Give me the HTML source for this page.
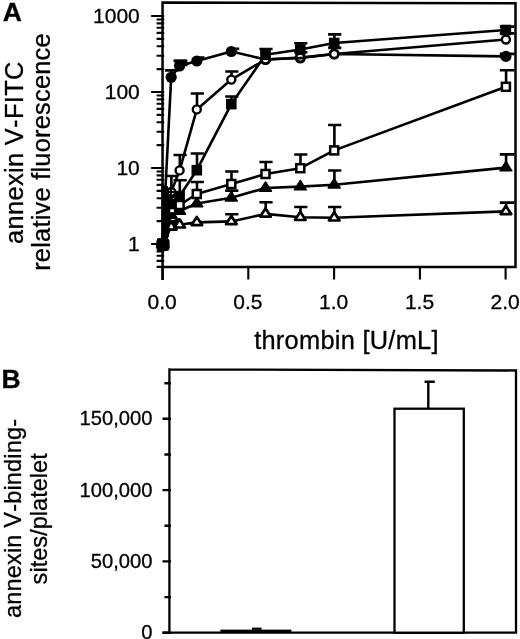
<!DOCTYPE html>
<html><head><meta charset="utf-8"><title>Figure</title>
<style>
html,body{margin:0;padding:0;background:#fff;}
svg{display:block;will-change:transform;}
text{font-family:"Liberation Sans",sans-serif;fill:#000;font-kerning:none;stroke:#000;stroke-width:0.3px;}
.t20{font-size:20.2px;}
.t21{font-size:21px;}
</style></head>
<body>
<svg width="520" height="639" viewBox="0 0 520 639">
<rect x="0" y="0" width="520" height="639" fill="#fff"/>
<g id="panelA">
<path d="M162.55,279.9 V2.5 L515.5,3.2 V266.9 H161.55" fill="none" stroke="#000" stroke-width="2.5" stroke-linejoin="miter"/>
<path d="M156.6,266.9 H164.2 M156.6,260.9 H164.2 M156.6,255.8 H164.2 M156.6,251.4 H164.2 M156.6,247.5 H164.2 M151.1,244.0 H164.2 M156.6,221.1 H164.2 M156.6,207.7 H164.2 M156.6,198.2 H164.2 M156.6,190.9 H164.2 M156.6,184.9 H164.2 M156.6,179.8 H164.2 M156.6,175.4 H164.2 M156.6,171.5 H164.2 M151.1,168.0 H164.2 M156.6,145.1 H164.2 M156.6,131.7 H164.2 M156.6,122.2 H164.2 M156.6,114.9 H164.2 M156.6,108.9 H164.2 M156.6,103.8 H164.2 M156.6,99.4 H164.2 M156.6,95.5 H164.2 M151.1,92.0 H164.2 M156.6,69.1 H164.2 M156.6,55.7 H164.2 M156.6,46.2 H164.2 M156.6,38.9 H164.2 M156.6,32.9 H164.2 M156.6,27.8 H164.2 M156.6,23.4 H164.2 M156.6,19.5 H164.2 M151.1,16.0 H164.2" fill="none" stroke="#000" stroke-width="2.1"/>
<path d="M162.6,266.9 V279.4 M248.3,266.9 V279.4 M334.1,266.9 V279.4 M419.9,266.9 V279.4 M505.6,266.9 V279.4" fill="none" stroke="#000" stroke-width="2.1"/>
<text x="162.2" y="309.2" text-anchor="middle" class="t21">0.0</text>
<text x="247.9" y="309.2" text-anchor="middle" class="t21">0.5</text>
<text x="333.7" y="309.2" text-anchor="middle" class="t21">1.0</text>
<text x="419.5" y="309.2" text-anchor="middle" class="t21">1.5</text>
<text x="505.2" y="309.2" text-anchor="middle" class="t21">2.0</text>
<text x="139.8" y="23.2" text-anchor="end" class="t21">1000</text>
<text x="139.8" y="99.2" text-anchor="end" class="t21">100</text>
<text x="139.8" y="175.2" text-anchor="end" class="t21">10</text>
<text x="139.8" y="251.2" text-anchor="end" class="t21">1</text>
<text x="346.5" y="349.3" text-anchor="middle" style="font-size:25.4px;letter-spacing:0.27px">thrombin [U/mL]</text>
<text transform="translate(23.4,152.6) rotate(-90)" text-anchor="middle" style="font-size:25.4px;letter-spacing:0.34px">annexin V-FITC</text>
<text transform="translate(50.3,152.0) rotate(-90)" text-anchor="middle" style="font-size:25.4px;letter-spacing:0.23px">relative fluorescence</text>
<text x="2.8" y="21" style="font-size:26.5px;font-weight:bold">A</text>
<path d="M162.6,244.0 L171.2,227.0 L179.6,224.8 L196.8,222.4 L231.3,221.4 L265.5,213.9 L300.3,217.3 L334.2,217.8 L505.9,211.4" fill="none" stroke="#000" stroke-width="2.6" stroke-linejoin="round"/>
<path d="M162.6,244.0 L171.2,215.0 L179.6,211.0 L196.8,203.5 L231.3,197.8 L265.5,188.0 L300.3,186.6 L334.2,184.8 L505.9,167.6" fill="none" stroke="#000" stroke-width="2.6" stroke-linejoin="round"/>
<path d="M162.6,244.0 L171.2,209.4 L179.6,205.0 L196.8,194.0 L231.3,184.0 L265.5,174.0 L300.3,168.2 L334.2,150.4 L505.9,86.8" fill="none" stroke="#000" stroke-width="2.6" stroke-linejoin="round"/>
<path d="M162.6,244.0 L171.2,77.3 L179.6,66.0 L196.8,61.0 L231.3,51.5 L265.5,59.5 L300.3,58.0 L334.2,54.0 L505.9,56.4" fill="none" stroke="#000" stroke-width="2.6" stroke-linejoin="round"/>
<path d="M162.6,244.0 L171.2,192.0 L179.6,170.4 L196.8,109.4 L231.3,79.6 L265.5,59.5 L300.3,57.6 L334.2,54.0 L505.9,39.5" fill="none" stroke="#000" stroke-width="2.6" stroke-linejoin="round"/>
<path d="M162.6,244.0 L171.2,204.0 L179.6,196.0 L196.8,170.2 L231.3,104.1 L265.5,54.8 L300.3,49.5 L334.2,43.0 L505.9,30.0" fill="none" stroke="#000" stroke-width="2.6" stroke-linejoin="round"/>
<path d="M231.5,221.4 V214.2 M225.2,214.2 H238.4" fill="none" stroke="#000" stroke-width="2.6"/>
<path d="M265.7,213.9 V202.3 M259.4,202.3 H272.6" fill="none" stroke="#000" stroke-width="2.6"/>
<path d="M300.5,217.3 V207.0 M294.2,207.0 H307.4" fill="none" stroke="#000" stroke-width="2.6"/>
<path d="M334.4,217.8 V207.0 M328.1,207.0 H341.3" fill="none" stroke="#000" stroke-width="2.6"/>
<path d="M506.1,211.4 V202.6 M499.8,202.6 H514.6" fill="none" stroke="#000" stroke-width="2.6"/>
<path d="M231.5,197.8 V190.6 M225.2,190.6 H238.4" fill="none" stroke="#000" stroke-width="2.6"/>
<path d="M334.4,184.8 V170.5 M328.1,170.5 H341.3" fill="none" stroke="#000" stroke-width="2.6"/>
<path d="M506.1,167.6 V154.4 M499.8,154.4 H514.6" fill="none" stroke="#000" stroke-width="2.6"/>
<path d="M171.4,209.4 V197.0 M165.1,197.0 H178.3" fill="none" stroke="#000" stroke-width="2.6"/>
<path d="M179.8,205.0 V180.2 M173.5,180.2 H186.7" fill="none" stroke="#000" stroke-width="2.6"/>
<path d="M197.0,194.0 V182.0 M190.7,182.0 H203.9" fill="none" stroke="#000" stroke-width="2.6"/>
<path d="M231.5,184.0 V171.5 M225.2,171.5 H238.4" fill="none" stroke="#000" stroke-width="2.6"/>
<path d="M265.7,174.0 V162.0 M259.4,162.0 H272.6" fill="none" stroke="#000" stroke-width="2.6"/>
<path d="M300.5,168.2 V154.5 M294.2,154.5 H307.4" fill="none" stroke="#000" stroke-width="2.6"/>
<path d="M334.4,150.4 V125.0 M328.1,125.0 H341.3" fill="none" stroke="#000" stroke-width="2.6"/>
<path d="M506.1,86.8 V70.3 M499.8,70.3 H514.6" fill="none" stroke="#000" stroke-width="2.6"/>
<path d="M171.4,77.3 V70.4 M165.1,70.4 H178.3" fill="none" stroke="#000" stroke-width="2.6"/>
<path d="M179.8,66.0 V60.8 M173.5,60.8 H186.7" fill="none" stroke="#000" stroke-width="2.6"/>
<path d="M506.1,56.4 V53.9 M499.8,53.9 H514.6" fill="none" stroke="#000" stroke-width="2.6"/>
<path d="M171.4,192.0 V176.0 M165.1,176.0 H178.3" fill="none" stroke="#000" stroke-width="2.6"/>
<path d="M179.8,170.4 V155.0 M173.5,155.0 H186.7" fill="none" stroke="#000" stroke-width="2.6"/>
<path d="M197.0,109.4 V93.5 M190.7,93.5 H203.9" fill="none" stroke="#000" stroke-width="2.6"/>
<path d="M231.5,79.6 V71.5 M225.2,71.5 H238.4" fill="none" stroke="#000" stroke-width="2.6"/>
<path d="M300.5,57.6 V52.3 M294.2,52.3 H307.4" fill="none" stroke="#000" stroke-width="2.6"/>
<path d="M334.4,54.0 V47.9 M328.1,47.9 H341.3" fill="none" stroke="#000" stroke-width="2.6"/>
<path d="M506.1,39.5 V33.4 M499.8,33.4 H514.6" fill="none" stroke="#000" stroke-width="2.6"/>
<path d="M197.0,170.2 V153.5 M190.7,153.5 H203.9" fill="none" stroke="#000" stroke-width="2.6"/>
<path d="M231.5,104.1 V96.5 M225.2,96.5 H238.4" fill="none" stroke="#000" stroke-width="2.6"/>
<path d="M265.7,54.8 V49.0 M259.4,49.0 H272.6" fill="none" stroke="#000" stroke-width="2.6"/>
<path d="M300.5,49.5 V43.2 M294.2,43.2 H307.4" fill="none" stroke="#000" stroke-width="2.6"/>
<path d="M334.4,43.0 V34.4 M328.1,34.4 H341.3" fill="none" stroke="#000" stroke-width="2.6"/>
<path d="M506.1,30.0 V26.6 M499.8,26.6 H514.6" fill="none" stroke="#000" stroke-width="2.6"/>
<path d="M162.6,238.5 L167.9,246.7 L157.3,246.7 Z" fill="#fff" stroke="#000" stroke-width="2.7" stroke-linejoin="round"/>
<path d="M171.2,221.5 L176.5,229.7 L165.9,229.7 Z" fill="#fff" stroke="#000" stroke-width="2.7" stroke-linejoin="round"/>
<path d="M179.6,219.3 L184.9,227.5 L174.3,227.5 Z" fill="#fff" stroke="#000" stroke-width="2.7" stroke-linejoin="round"/>
<path d="M196.8,216.9 L202.1,225.1 L191.5,225.1 Z" fill="#fff" stroke="#000" stroke-width="2.7" stroke-linejoin="round"/>
<path d="M231.3,215.9 L236.6,224.1 L226.0,224.1 Z" fill="#fff" stroke="#000" stroke-width="2.7" stroke-linejoin="round"/>
<path d="M265.5,208.4 L270.8,216.6 L260.2,216.6 Z" fill="#fff" stroke="#000" stroke-width="2.7" stroke-linejoin="round"/>
<path d="M300.3,211.8 L305.6,220.0 L295.0,220.0 Z" fill="#fff" stroke="#000" stroke-width="2.7" stroke-linejoin="round"/>
<path d="M334.2,212.3 L339.5,220.5 L328.9,220.5 Z" fill="#fff" stroke="#000" stroke-width="2.7" stroke-linejoin="round"/>
<path d="M505.9,205.9 L511.2,214.1 L500.6,214.1 Z" fill="#fff" stroke="#000" stroke-width="2.7" stroke-linejoin="round"/>
<path d="M162.6,237.8 L168.6,247.2 L156.6,247.2 Z" fill="#000" stroke="#000" stroke-width="1.4" stroke-linejoin="round"/>
<path d="M171.2,208.8 L177.2,218.2 L165.2,218.2 Z" fill="#000" stroke="#000" stroke-width="1.4" stroke-linejoin="round"/>
<path d="M179.6,204.8 L185.6,214.2 L173.6,214.2 Z" fill="#000" stroke="#000" stroke-width="1.4" stroke-linejoin="round"/>
<path d="M196.8,197.3 L202.8,206.7 L190.8,206.7 Z" fill="#000" stroke="#000" stroke-width="1.4" stroke-linejoin="round"/>
<path d="M231.3,191.6 L237.3,201.0 L225.3,201.0 Z" fill="#000" stroke="#000" stroke-width="1.4" stroke-linejoin="round"/>
<path d="M265.5,181.8 L271.5,191.2 L259.5,191.2 Z" fill="#000" stroke="#000" stroke-width="1.4" stroke-linejoin="round"/>
<path d="M300.3,180.4 L306.3,189.8 L294.3,189.8 Z" fill="#000" stroke="#000" stroke-width="1.4" stroke-linejoin="round"/>
<path d="M334.2,178.6 L340.2,188.0 L328.2,188.0 Z" fill="#000" stroke="#000" stroke-width="1.4" stroke-linejoin="round"/>
<path d="M505.9,161.4 L511.9,170.8 L499.9,170.8 Z" fill="#000" stroke="#000" stroke-width="1.4" stroke-linejoin="round"/>
<rect x="158.6" y="240.0" width="8.0" height="8.0" fill="#fff" stroke="#000" stroke-width="2.5"/>
<rect x="167.2" y="205.4" width="8.0" height="8.0" fill="#fff" stroke="#000" stroke-width="2.5"/>
<rect x="175.6" y="201.0" width="8.0" height="8.0" fill="#fff" stroke="#000" stroke-width="2.5"/>
<rect x="192.8" y="190.0" width="8.0" height="8.0" fill="#fff" stroke="#000" stroke-width="2.5"/>
<rect x="227.3" y="180.0" width="8.0" height="8.0" fill="#fff" stroke="#000" stroke-width="2.5"/>
<rect x="261.5" y="170.0" width="8.0" height="8.0" fill="#fff" stroke="#000" stroke-width="2.5"/>
<rect x="296.3" y="164.2" width="8.0" height="8.0" fill="#fff" stroke="#000" stroke-width="2.5"/>
<rect x="330.2" y="146.4" width="8.0" height="8.0" fill="#fff" stroke="#000" stroke-width="2.5"/>
<rect x="501.9" y="82.8" width="8.0" height="8.0" fill="#fff" stroke="#000" stroke-width="2.5"/>
<circle cx="162.6" cy="244.0" r="5.6" fill="#000"/>
<circle cx="171.2" cy="77.3" r="5.6" fill="#000"/>
<circle cx="179.6" cy="66.0" r="5.6" fill="#000"/>
<circle cx="196.8" cy="61.0" r="5.6" fill="#000"/>
<circle cx="231.3" cy="51.5" r="5.6" fill="#000"/>
<circle cx="265.5" cy="59.5" r="5.6" fill="#000"/>
<circle cx="300.3" cy="58.0" r="5.6" fill="#000"/>
<circle cx="334.2" cy="54.0" r="5.6" fill="#000"/>
<circle cx="505.9" cy="56.4" r="5.6" fill="#000"/>
<circle cx="162.6" cy="244.0" r="4.0" fill="#fff" stroke="#000" stroke-width="2.4"/>
<circle cx="171.2" cy="192.0" r="4.0" fill="#fff" stroke="#000" stroke-width="2.4"/>
<circle cx="179.6" cy="170.4" r="4.0" fill="#fff" stroke="#000" stroke-width="2.4"/>
<circle cx="196.8" cy="109.4" r="4.0" fill="#fff" stroke="#000" stroke-width="2.4"/>
<circle cx="231.3" cy="79.6" r="4.0" fill="#fff" stroke="#000" stroke-width="2.4"/>
<circle cx="265.5" cy="59.5" r="4.0" fill="#fff" stroke="#000" stroke-width="2.4"/>
<circle cx="300.3" cy="57.6" r="4.0" fill="#fff" stroke="#000" stroke-width="2.4"/>
<circle cx="334.2" cy="54.0" r="4.0" fill="#fff" stroke="#000" stroke-width="2.4"/>
<circle cx="505.9" cy="39.5" r="4.0" fill="#fff" stroke="#000" stroke-width="2.4"/>
<rect x="157.3" y="238.7" width="10.6" height="10.6" fill="#000"/>
<rect x="165.9" y="198.7" width="10.6" height="10.6" fill="#000"/>
<rect x="174.3" y="190.7" width="10.6" height="10.6" fill="#000"/>
<rect x="191.5" y="164.9" width="10.6" height="10.6" fill="#000"/>
<rect x="226.0" y="98.8" width="10.6" height="10.6" fill="#000"/>
<rect x="260.2" y="49.5" width="10.6" height="10.6" fill="#000"/>
<rect x="295.0" y="44.2" width="10.6" height="10.6" fill="#000"/>
<rect x="328.9" y="37.7" width="10.6" height="10.6" fill="#000"/>
<rect x="500.6" y="24.7" width="10.6" height="10.6" fill="#000"/>
<path d="M196.8,57.6 H204.4 M231.3,48.9 H239.2" fill="none" stroke="#000" stroke-width="2.6"/>
<rect x="174.6" y="59.6" width="12.8" height="6.6" fill="#000"/>
<path d="M161.4,243 L161.4,186 L167.8,186 L170.0,200 L170.3,214 L169.0,236 L166,243 Z" fill="#000"/>
<path d="M296.3,58.3 L304.3,57.8" fill="none" stroke="#000" stroke-width="2.8"/>
<path d="M171.3,220.6 L179.4,218.0 L177.0,225.5 L173.5,226.5 Z" fill="#000"/>
<circle cx="162.6" cy="244.0" r="5.6" fill="#000"/>
<rect x="157.3" y="238.7" width="10.6" height="10.6" fill="#000"/>
<path d="M162.6,237.8 L168.6,247.2 L156.6,247.2 Z" fill="#000" stroke="#000" stroke-width="1.4" stroke-linejoin="round"/>
<rect x="156.4" y="238.2" width="13.2" height="12.8" rx="3.5" fill="#000"/>
<path d="M170.8,204 V187 M165.7,192 H176.7" fill="none" stroke="#000" stroke-width="2.2"/>
</g>
<g id="panelB">
<path d="M169.4,369.3 L516.0,370.5 L516.0,632.7 L162.5,632.7 M169.4,633.7 L169.4,368.2" fill="none" stroke="#000" stroke-width="2.3" stroke-linejoin="miter"/>
<path d="M162.5,632.7 H171.0 M164.4,597.1 H171.0 M162.5,561.4 H171.0 M164.4,525.8 H171.0 M162.5,490.1 H171.0 M164.4,454.5 H171.0 M162.5,418.8 H171.0 M164.4,383.2 H171.0" fill="none" stroke="#000" stroke-width="2.4"/>
<text x="152.5" y="639.1" text-anchor="end" class="t20">0</text>
<text x="152.5" y="567.8" text-anchor="end" class="t20">50,000</text>
<text x="152.5" y="496.5" text-anchor="end" class="t20">100,000</text>
<text x="152.5" y="425.2" text-anchor="end" class="t20">150,000</text>
<rect x="394.5" y="408.7" width="69.3" height="224.00000000000006" fill="#fff" stroke="#000" stroke-width="2.3"/>
<path d="M428.3,408.5 V381.8 M424.6,381.8 H434.8" fill="none" stroke="#000" stroke-width="2.4"/>
<rect x="220.4" y="629.6" width="71" height="3" fill="#000"/>
<path d="M252,628.7 H261.5" fill="none" stroke="#000" stroke-width="2.2"/>
<text transform="translate(21.3,518.4) rotate(-90)" text-anchor="middle" style="font-size:23.6px;letter-spacing:0.14px">annexin V-binding-</text>
<text transform="translate(47.4,518.8) rotate(-90)" text-anchor="middle" style="font-size:23.6px">sites/platelet</text>
<text x="1.4" y="387.9" style="font-size:26.5px;font-weight:bold">B</text>
</g>
</svg>
</body></html>
